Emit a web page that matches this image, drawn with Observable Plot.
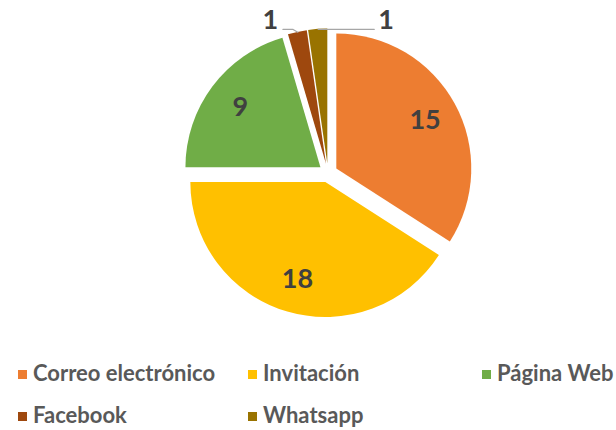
<!DOCTYPE html>
<html>
<head>
<meta charset="utf-8">
<script src="https://cdn.jsdelivr.net/npm/d3@7"></script>
<script src="https://cdn.jsdelivr.net/npm/@observablehq/plot@0.6"></script>
<style>
  body { margin: 0; background: #fff; }
  #wrap { width: 616px; height: 430px; position: relative; overflow: hidden; }
  #legend { position: relative; width: 616px; height: 85px; font-family: Lato, "Open Sans", sans-serif; font-weight: bold; font-size: 22px; color: #595959; }
  .item { position: absolute; height: 24px; line-height: 24px; white-space: nowrap; }
  .sw { display: inline-block; width: 9px; height: 9px; margin-right: 6px; vertical-align: 2px; }
</style>
</head>
<body>
<div id="wrap">
  <div id="chart"></div>
  <div id="legend"></div>
</div>
<script>
const categories = ["Correo electrónico", "Invitación", "Página Web", "Facebook", "Whatsapp"];
const values = [15, 18, 9, 1, 1];
const colors = ["#ED7D31", "#FFC000", "#70AD47", "#9E480E", "#997300"];

const data = categories.map((c, i) => ({category: c, value: values[i], color: colors[i]}));
const arcs = d3.pie().sort(null).value(d => d.value)(data);
const total = d3.sum(values);

const E = 0.07;      // explosion (fraction of radius)
const LR = 0.745;    // inside label radius
const mid = a => (a.startAngle + a.endAngle) / 2;
const off = a => [E * Math.sin(mid(a)), E * Math.cos(mid(a))];

const big = arcs.filter(a => a.value / total >= 0.05);
const small = arcs.filter(a => a.value / total < 0.05);

// outside labels with leader lines for small slices
const leaders = [];
const outLabels = [];
small.forEach((a, k) => {
  const [ox, oy] = off(a);
  const px = ox + Math.sin(mid(a)), py = oy + Math.cos(mid(a));
  const ly = 1.067;
  if (k === 0) {
    leaders.push({id: k, x: px, y: py}, {id: k, x: px - 0.035, y: ly}, {id: k, x: px - 0.11, y: ly});
    outLabels.push({x: px - 0.145, y: ly, text: a.value, anchor: "end"});
  } else {
    leaders.push({id: k, x: px, y: ly}, {id: k, x: px + 0.415, y: ly});
    outLabels.push({x: px + 0.445, y: ly, text: a.value, anchor: "start"});
  }
});

const cx = 328, cy = 173, R = 135;

const slices = (index, scales) => {
  const g = d3.create("svg:g");
  const x0 = scales.x(0), r = scales.x(1) - x0;
  const arcGen = d3.arc().innerRadius(0).outerRadius(r);
  g.selectAll("path").data(arcs).join("path")
    .attr("d", arcGen)
    .attr("fill", d => d.data.color)
    .attr("transform", d => { const [ox, oy] = off(d); return `translate(${scales.x(ox)},${scales.y(oy)})`; });
  return g.node();
};

const font = {fontFamily: "Lato, 'Open Sans', sans-serif", fontWeight: "bold", fontSize: 27, fill: "#404040"};

const plot = Plot.plot({
  width: 616,
  height: 345,
  margin: 0,
  x: {domain: [-1, 1], range: [cx - R, cx + R], axis: null},
  y: {domain: [-1, 1], range: [cy + R, cy - R], axis: null},
  style: {background: "#fff"},
  marks: [
    slices,
    Plot.text(big, {
      x: a => (E + LR) * Math.sin(mid(a)),
      y: a => (E + LR) * Math.cos(mid(a)),
      text: a => a.value,
      ...font
    }),
    Plot.line(leaders, {x: "x", y: "y", z: "id", stroke: "#A6A6A6", strokeWidth: 1.2}),
    Plot.text(outLabels.filter(d => d.anchor === "end"), {
      x: "x", y: "y", text: "text", textAnchor: "end", dy: -9, ...font
    }),
    Plot.text(outLabels.filter(d => d.anchor === "start"), {
      x: "x", y: "y", text: "text", textAnchor: "start", dy: -9, ...font
    })
  ]
});
document.getElementById("chart").appendChild(plot);

// legend
const colX = [18, 248, 482];
const rowY = [16, 58];
const legend = d3.select("#legend");
data.forEach((d, i) => {
  const item = legend.append("div").attr("class", "item")
    .style("left", colX[i % 3] + "px")
    .style("top", rowY[Math.floor(i / 3)] + "px");
  item.append("span").attr("class", "sw").style("background", d.color);
  item.append("span").text(d.category);
});
</script>
</body>
</html>
